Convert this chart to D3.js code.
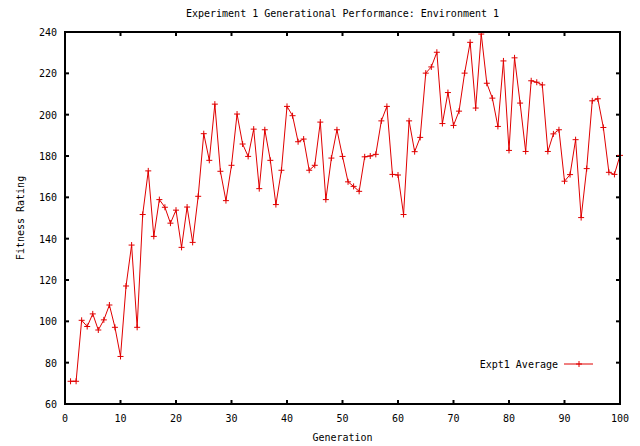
<!DOCTYPE html>
<html>
<head>
<meta charset="utf-8">
<script src="https://cdn.jsdelivr.net/npm/d3@7"></script>
<style>
  body { margin: 0; background: #fff; }
  text { font-family: "DejaVu Sans Mono", monospace; font-size: 10px; fill: #000; }
</style>
</head>
<body>
<svg id="chart"></svg>
<script>
const titleText = "Experiment 1 Generational Performance: Environment 1";
const xLabel = "Generation";
const yLabel = "Fitness Rating";
const seriesName = "Expt1 Average";

const xTicks = [0, 10, 20, 30, 40, 50, 60, 70, 80, 90, 100];
const yTicks = [60, 80, 100, 120, 140, 160, 180, 200, 220, 240];

// average fitness for generations 1..100
const fitness = [
	71, 71, 100.5, 97.5, 103.6, 95.8, 100.7, 107.9, 97.1, 83,
	117.1, 136.9, 97.1, 151.7, 172.8, 141.1, 158.9, 155.2, 147.5, 153.8,
	135.8, 155.3, 138.2, 160.5, 190.8, 177.9, 205.1, 172.6, 158.4, 175.5,
	200.3, 185.8, 179.8, 193, 164.2, 192.7, 177.9, 156.5, 173.1, 204,
	199.5, 186.9, 188.2, 173.1, 175.5, 196.4, 158.9, 179, 192.7, 179.8,
	167.5, 165.3, 162.9, 179.6, 180, 180.8, 197, 204, 171.1, 170.8,
	151.7, 197, 182.1, 189, 220.1, 223.1, 230.2, 195.7, 210.7, 194.8,
	201.7, 220.1, 235, 203.2, 239, 215.2, 208, 194.3, 226, 182.7,
	227.5, 205.6, 182.2, 216.4, 215.7, 214.4, 182.2, 190.7, 192.7, 167.8,
	171, 187.9, 150.2, 173.9, 206.7, 207.7, 193.8, 172.1, 171.1, 180.3
];
const generations = fitness.map((d, i) => i + 1);

const width = 640, height = 446;
const margin = {left: 65, right: 20, top: 32, bottom: 42};
const lineColor = "#e00000";

const svg = d3.select("#chart")
		.attr("width", width)
		.attr("height", height);

const x = d3.scaleLinear()
		.domain([0, 100])
		.range([margin.left, width - margin.right]);
const y = d3.scaleLinear()
		.domain([60, 240])
		.range([height - margin.bottom, margin.top]);

const tickLen = 4;

// ticks (inward, mirrored on all sides)
const ticks = svg.append("g").attr("stroke", "#000").attr("stroke-width", 2);
xTicks.forEach(t => {
	ticks.append("line").attr("x1", x(t)).attr("x2", x(t)).attr("y1", y.range()[0]).attr("y2", y.range()[0] - tickLen);
	ticks.append("line").attr("x1", x(t)).attr("x2", x(t)).attr("y1", y.range()[1]).attr("y2", y.range()[1] + tickLen);
});
yTicks.forEach(t => {
	ticks.append("line").attr("x1", x.range()[0]).attr("x2", x.range()[0] + tickLen).attr("y1", y(t)).attr("y2", y(t));
	ticks.append("line").attr("x1", x.range()[1]).attr("x2", x.range()[1] - tickLen).attr("y1", y(t)).attr("y2", y(t));
});

// tick labels
svg.append("g").selectAll("text")
	.data(xTicks)
	.join("text")
	.attr("x", d => x(d))
	.attr("y", y.range()[0] + 18)
	.attr("text-anchor", "middle")
	.text(d => d);
svg.append("g").selectAll("text")
	.data(yTicks)
	.join("text")
	.attr("x", x.range()[0] - 8)
	.attr("y", d => y(d) + 4)
	.attr("text-anchor", "end")
	.text(d => d);

// series line
const line = d3.line()
	.x((d, i) => x(generations[i]))
	.y(d => y(d));

svg.append("path")
	.datum(fitness)
	.attr("d", line)
	.attr("fill", "none")
	.attr("stroke", lineColor)
	.attr("stroke-width", 1);

// + markers
const ms = 3;
svg.append("g")
	.attr("stroke", lineColor)
	.attr("stroke-width", 1)
	.selectAll("path")
	.data(fitness)
	.join("path")
	.attr("d", (d, i) => {
		const cx = x(generations[i]), cy = y(d);
		return "M" + (cx - ms) + "," + cy + "H" + (cx + ms) + "M" + cx + "," + (cy - ms) + "V" + (cy + ms);
	});

// border
svg.append("rect")
	.attr("x", x.range()[0])
	.attr("y", y.range()[1])
	.attr("width", x.range()[1] - x.range()[0])
	.attr("height", y.range()[0] - y.range()[1])
	.attr("fill", "none")
	.attr("stroke", "#000")
	.attr("stroke-width", 2);

// legend
const legY = 364;
svg.append("text")
	.attr("x", 558)
	.attr("y", legY + 4)
	.attr("text-anchor", "end")
	.text(seriesName);
svg.append("line")
	.attr("x1", 564).attr("x2", 593)
	.attr("y1", legY).attr("y2", legY)
	.attr("stroke", lineColor);
svg.append("path")
	.attr("d", "M" + (579 - ms) + "," + legY + "H" + (579 + ms) + "M579," + (legY - ms) + "V" + (legY + ms))
	.attr("stroke", lineColor);

// titles
svg.append("text")
	.attr("x", (x.range()[0] + x.range()[1]) / 2)
	.attr("y", 17)
	.attr("text-anchor", "middle")
	.text(titleText);
svg.append("text")
	.attr("x", (x.range()[0] + x.range()[1]) / 2)
	.attr("y", 441)
	.attr("text-anchor", "middle")
	.text(xLabel);
svg.append("text")
	.attr("transform", "translate(24," + ((y.range()[0] + y.range()[1]) / 2) + ") rotate(-90)")
	.attr("text-anchor", "middle")
	.text(yLabel);
</script>
</body>
</html>
